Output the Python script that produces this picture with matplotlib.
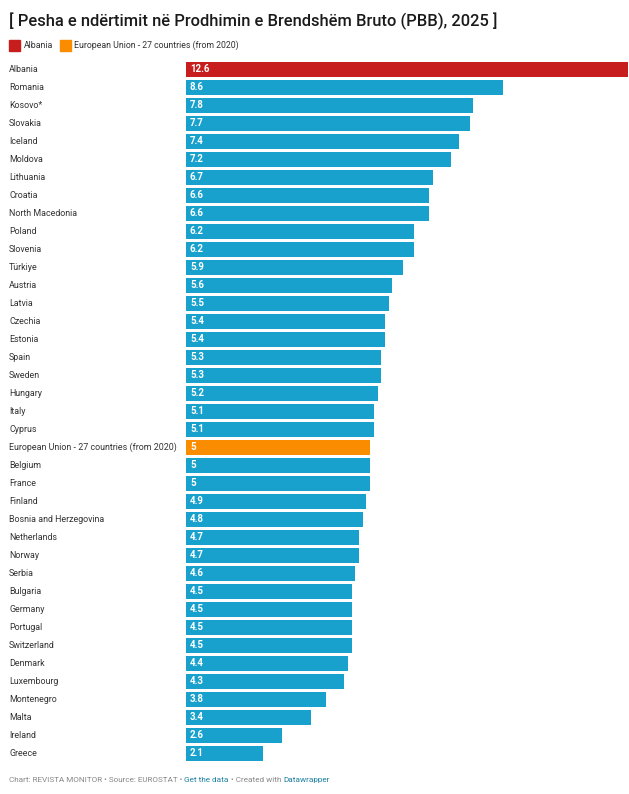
import matplotlib
matplotlib.use("Agg")
import matplotlib.pyplot as plt
from matplotlib.transforms import blended_transform_factory
from matplotlib.patches import Rectangle

countries = ["Albania", "Romania", "Kosovo*", "Slovakia", "Iceland", "Moldova", "Lithuania",
             "Croatia", "North Macedonia", "Poland", "Slovenia", "Türkiye", "Austria", "Latvia",
             "Czechia", "Estonia", "Spain", "Sweden", "Hungary", "Italy", "Cyprus",
             "European Union - 27 countries (from 2020)", "Belgium", "France", "Finland",
             "Bosnia and Herzegovina", "Netherlands", "Norway", "Serbia", "Bulgaria", "Germany",
             "Portugal", "Switzerland", "Denmark", "Luxembourg", "Montenegro", "Malta",
             "Ireland", "Greece"]
values = [12.6, 8.6, 7.8, 7.7, 7.4, 7.2, 6.7, 6.6, 6.6, 6.2, 6.2, 5.9, 5.6, 5.5, 5.4, 5.4,
          5.3, 5.3, 5.2, 5.1, 5.1, 5, 5, 5, 4.9, 4.8, 4.7, 4.7, 4.6, 4.5, 4.5, 4.5, 4.5, 4.4,
          4.3, 3.8, 3.4, 2.6, 2.1]
highlight = {"Albania": "#c71e1d", "European Union - 27 countries (from 2020)": "#fa8c00"}
default_color = "#18a1cd"
legend_labels = ["Albania", "European Union - 27 countries (from 2020)"]

title = "[ Pesha e ndërtimit në Prodhimin e Brendshëm Bruto (PBB), 2025 ]"

plt.rcParams['font.family'] = ['Roboto', 'DejaVu Sans']

W, H = 629, 794
fig = plt.figure(figsize=(W / 100, H / 100), dpi=100)
top_px, bot_px = 60.5, 762.5
left_px, right_px = 186, 628
ax = fig.add_axes([left_px / W, 1 - bot_px / H, (right_px - left_px) / W, (bot_px - top_px) / H])

n = len(countries)
colors = [highlight.get(c, default_color) for c in countries]
ypos = list(range(n))
ax.barh(ypos, values, height=0.8, color=colors, edgecolor="none")
ax.set_xlim(0, 12.0)
ax.set_ylim(n - 0.5, -0.5)
ax.axis("off")

for y, v in zip(ypos, values):
    ax.annotate(f"{v:g}", xy=(0, y), xytext=(4, 0), textcoords="offset pixels",
                ha="left", va="center", color="white", fontsize=7, fontweight="bold")

tr = blended_transform_factory(fig.transFigure, ax.transData)
for y, c in zip(ypos, countries):
    fig.text(9 / W, y, c, transform=tr, ha="left", va="center", fontsize=6.4, color="#333333")

# title
fig.text(9 / W, 1 - 21 / H, title, ha="left", va="center", fontsize=11.85,
         fontweight="medium", color="#1a1a1a")

# legend
lx = 9
for lab in legend_labels:
    fig.patches.append(Rectangle((lx / W, 1 - 51 / H), 11 / W, 11 / H,
                                 transform=fig.transFigure, color=highlight[lab]))
    t = fig.text((lx + 14.5) / W, 1 - 45.5 / H, lab, ha="left", va="center",
                 fontsize=6.3, color="#333333")
    fig.canvas.draw()
    bb = t.get_window_extent()
    lx = bb.x1 + 7

# footer
parts = [("Chart: REVISTA MONITOR • Source: EUROSTAT • ", "#888888"),
         ("Get the data", "#1d81a2"),
         (" • Created with ", "#888888"),
         ("Datawrapper", "#1d81a2")]
texts = []
for txt, col in parts:
    texts.append(fig.text(0, 1 - 780 / H, txt, ha="left", va="center", fontsize=5.85,
                          color=col))
fig.canvas.draw()
r = fig.canvas.get_renderer()
x = 9
for t in texts:
    t.set_position((x / W, 1 - 780 / H))
    bb = t.get_window_extent(renderer=r)
    x = x + bb.width

fig.savefig("out.png", dpi=100)
